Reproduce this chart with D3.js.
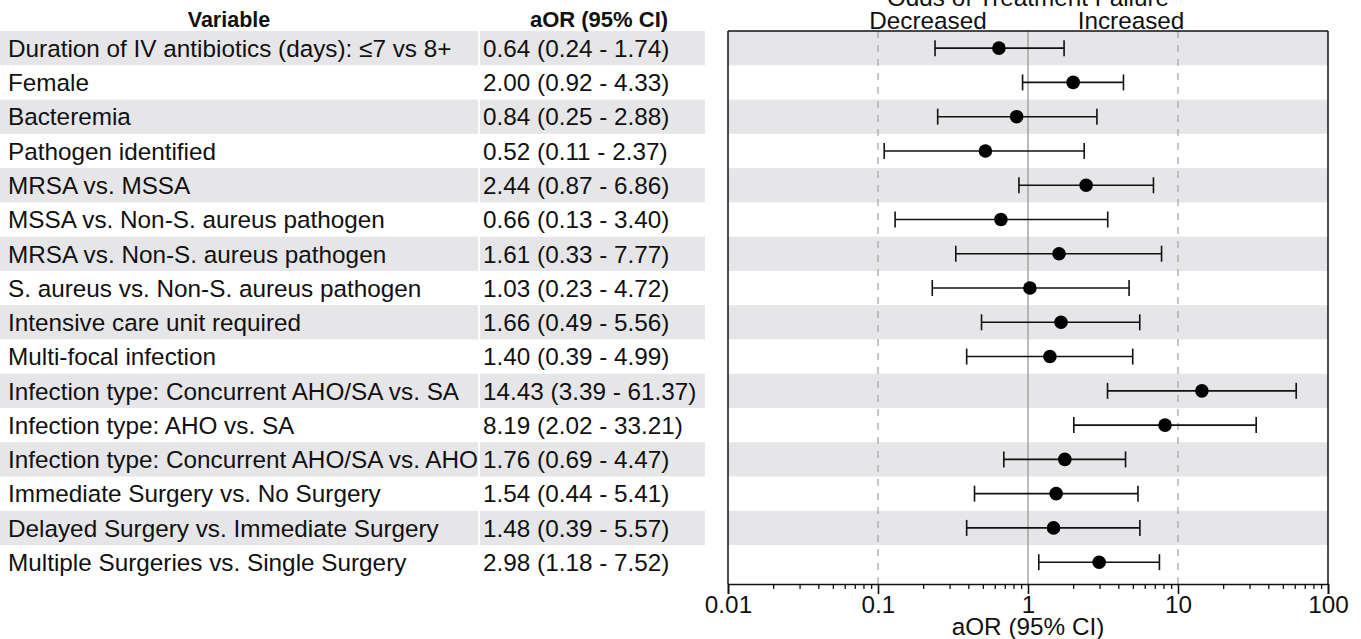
<!DOCTYPE html>
<html><head><meta charset="utf-8">
<script src="https://cdn.jsdelivr.net/npm/d3@7"></script>
<style>body{margin:0;background:#fff}svg{display:block}</style>
</head><body>
<svg id="c" width="1361" height="639"></svg>
<script>
const variables = [
  "Duration of IV antibiotics (days): ≤7 vs 8+",
  "Female",
  "Bacteremia",
  "Pathogen identified",
  "MRSA vs. MSSA",
  "MSSA vs. Non-S. aureus pathogen",
  "MRSA vs. Non-S. aureus pathogen",
  "S. aureus vs. Non-S. aureus pathogen",
  "Intensive care unit required",
  "Multi-focal infection",
  "Infection type: Concurrent AHO/SA vs. SA",
  "Infection type: AHO vs. SA",
  "Infection type: Concurrent AHO/SA vs. AHO",
  "Immediate Surgery vs. No Surgery",
  "Delayed Surgery vs. Immediate Surgery",
  "Multiple Surgeries vs. Single Surgery"
];
const aor   = [0.64, 2.00, 0.84, 0.52, 2.44, 0.66, 1.61, 1.03, 1.66, 1.40, 14.43, 8.19, 1.76, 1.54, 1.48, 2.98];
const lower = [0.24, 0.92, 0.25, 0.11, 0.87, 0.13, 0.33, 0.23, 0.49, 0.39, 3.39, 2.02, 0.69, 0.44, 0.39, 1.18];
const upper = [1.74, 4.33, 2.88, 2.37, 6.86, 3.40, 7.77, 4.72, 5.56, 4.99, 61.37, 33.21, 4.47, 5.41, 5.57, 7.52];
const ciText = ["0.64 (0.24 - 1.74)","2.00 (0.92 - 4.33)","0.84 (0.25 - 2.88)","0.52 (0.11 - 2.37)","2.44 (0.87 - 6.86)","0.66 (0.13 - 3.40)","1.61 (0.33 - 7.77)","1.03 (0.23 - 4.72)","1.66 (0.49 - 5.56)","1.40 (0.39 - 4.99)","14.43 (3.39 - 61.37)","8.19 (2.02 - 33.21)","1.76 (0.69 - 4.47)","1.54 (0.44 - 5.41)","1.48 (0.39 - 5.57)","2.98 (1.18 - 7.52)"];
const xTicks = [0.01, 0.1, 1, 10, 100];
const xTickLabels = ["0.01", "0.1", "1", "10", "100"];
const refLines = [0.1, 10];

const svg = d3.select("#c");
const FONT = "'Liberation Sans', Arial, sans-serif";
const pLeft = 728, pRight = 1328, pTop = 31, rowH = 34.27;
const pBottom = pTop + rowH * variables.length;
const axisY = 584;
const FS = 24.3;

const x = d3.scaleLog().domain([0.01, 100]).range([pLeft, pRight]);
const y = d3.scaleBand().domain(d3.range(variables.length)).range([pTop, pBottom]).padding(0);

const gray = "#e6e6e8";
const evenRows = d3.range(variables.length).filter(i => i % 2 === 0);
svg.append("g").selectAll("rect").data(evenRows)
  .join("rect").attr("x", 0).attr("y", i => y(i)).attr("width", 478).attr("height", y.bandwidth()).attr("fill", gray);
svg.append("g").selectAll("rect").data(evenRows)
  .join("rect").attr("x", 480).attr("y", i => y(i)).attr("width", 225).attr("height", y.bandwidth()).attr("fill", gray);
svg.append("g").selectAll("rect").data(evenRows)
  .join("rect").attr("x", pLeft).attr("y", i => y(i)).attr("width", pRight - pLeft).attr("height", y.bandwidth()).attr("fill", gray);

// headers
svg.append("text").attr("x", 229).attr("y", 27).attr("text-anchor", "middle")
  .attr("font-family", FONT).attr("font-weight", "bold").attr("font-size", 21.5).attr("fill", "#111").text("Variable");
svg.append("text").attr("x", 599).attr("y", 27).attr("text-anchor", "middle")
  .attr("font-family", FONT).attr("font-weight", "bold").attr("font-size", 22).attr("fill", "#111").text("aOR (95% CI)");

// table text
svg.append("g").selectAll("text").data(variables).join("text")
  .attr("x", 8).attr("y", (d, i) => y(i) + y.bandwidth() / 2).attr("dy", "0.36em")
  .attr("font-family", FONT).attr("font-size", FS).attr("fill", "#111").text(d => d);
svg.append("g").selectAll("text").data(ciText).join("text")
  .attr("x", 483).attr("y", (d, i) => y(i) + y.bandwidth() / 2).attr("dy", "0.36em")
  .attr("font-family", FONT).attr("font-size", FS).attr("fill", "#111").text(d => d);

// reference lines
svg.append("g").selectAll("line").data(refLines).join("line")
  .attr("x1", d => x(d)).attr("x2", d => x(d)).attr("y1", pTop).attr("y2", axisY)
  .attr("stroke", "#aaa").attr("stroke-width", 1.3).attr("stroke-dasharray", "7,7");
svg.append("line").attr("x1", x(1)).attr("x2", x(1)).attr("y1", pTop).attr("y2", axisY)
  .attr("stroke", "#999").attr("stroke-width", 1.3);

// error bars
const g = svg.append("g");
const cap = 8;
variables.forEach((v, i) => {
  const cy = y(i) + y.bandwidth() / 2;
  g.append("line").attr("x1", x(lower[i])).attr("x2", x(upper[i])).attr("y1", cy).attr("y2", cy)
    .attr("stroke", "#111").attr("stroke-width", 1.6);
  [lower[i], upper[i]].forEach(b => g.append("line").attr("x1", x(b)).attr("x2", x(b))
    .attr("y1", cy - cap).attr("y2", cy + cap).attr("stroke", "#111").attr("stroke-width", 1.6));
  g.append("circle").attr("cx", x(aor[i])).attr("cy", cy).attr("r", 6.8).attr("fill", "#000");
});

// frame
svg.append("line").attr("x1", pLeft).attr("x2", pRight).attr("y1", pTop).attr("y2", pTop).attr("stroke", "#111").attr("stroke-width", 1.5);
svg.append("line").attr("x1", pLeft).attr("x2", pLeft).attr("y1", pTop).attr("y2", axisY).attr("stroke", "#111").attr("stroke-width", 1.5);
svg.append("line").attr("x1", pRight).attr("x2", pRight).attr("y1", pTop).attr("y2", axisY).attr("stroke", "#111").attr("stroke-width", 1.5);

// axis
const minor = [];
for (let e = -2; e < 2; e++) for (let k = 2; k <= 9; k++) minor.push(k * Math.pow(10, e));
const ax = svg.append("g").attr("transform", `translate(0,${axisY})`);
ax.append("g").call(d3.axisBottom(x).tickValues(minor).tickSize(5).tickFormat(""))
  .call(s => s.select(".domain").remove())
  .selectAll("line").attr("stroke", "#111").attr("stroke-width", 1.3);
ax.append("g").call(d3.axisBottom(x).tickValues(xTicks).tickSize(10).tickPadding(2)
    .tickFormat((d, i) => xTickLabels[i]))
  .call(s => s.select(".domain").attr("stroke", "#111").attr("stroke-width", 1.6))
  .call(s => s.selectAll("line").attr("stroke", "#111").attr("stroke-width", 1.6))
  .call(s => s.selectAll("text").attr("font-family", FONT).attr("font-size", FS).attr("fill", "#111"));

svg.append("text").attr("x", x(1)).attr("y", 635).attr("text-anchor", "middle")
  .attr("font-family", FONT).attr("font-size", FS).attr("fill", "#111").text("aOR (95% CI)");

// titles above plot
svg.append("text").attr("x", x(1)).attr("y", 6).attr("text-anchor", "middle")
  .attr("font-family", FONT).attr("font-size", FS).attr("fill", "#111").text("Odds of Treatment Failure");
svg.append("text").attr("x", 928).attr("y", 29).attr("text-anchor", "middle")
  .attr("font-family", FONT).attr("font-size", FS).attr("fill", "#111").text("Decreased");
svg.append("text").attr("x", 1131).attr("y", 29).attr("text-anchor", "middle")
  .attr("font-family", FONT).attr("font-size", FS).attr("fill", "#111").text("Increased");
</script>
</body></html>
